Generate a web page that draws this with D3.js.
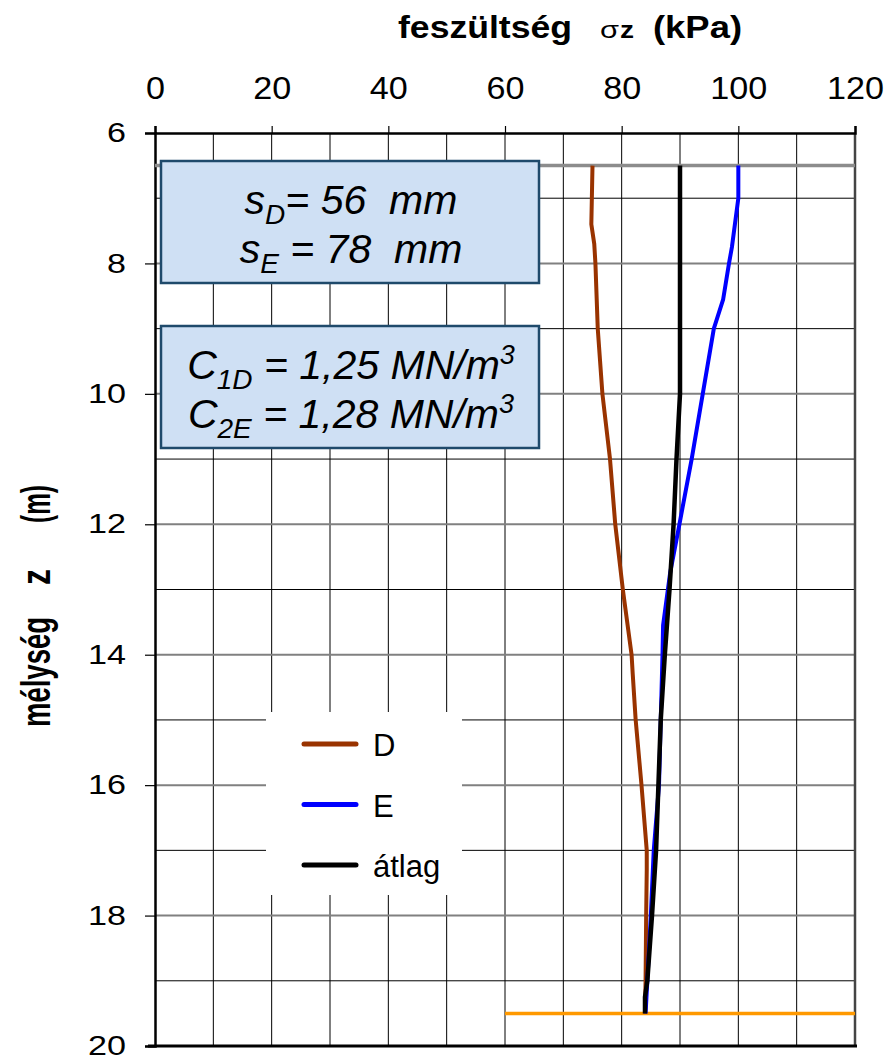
<!DOCTYPE html>
<html>
<head>
<meta charset="utf-8">
<script src="https://cdn.jsdelivr.net/npm/d3@7/dist/d3.min.js"></script>
<style>
body{margin:0;background:#fff;}
text{font-family:"Liberation Sans",Arial,sans-serif;}
.axis path{stroke:#000;}
</style>
</head>
<body>
<div id="canvas"></div>
<script>
// data
var depthD  = [6.5, 7.4, 7.7, 8, 9, 10, 11, 12, 13, 14, 14.3, 15, 16, 17, 17.3, 18, 19, 19.5];
var stressD = [75, 74.8, 75.3, 75.5, 75.9, 76.7, 78, 78.9, 80.2, 81.7, 81.9, 82.4, 83.4, 84.3, 84.3, 84.2, 84.1, 84.0];

var depthE  = [6.5, 7, 7.75, 8, 8.55, 9, 10, 11, 12, 12.75, 13.55, 14, 15, 16, 17, 18, 19, 19.5];
var stressE = [100, 100, 98.9, 98.4, 97.4, 95.8, 93.9, 92, 89.9, 88.3, 87.1, 87, 86.7, 86.4, 85.5, 85, 84.4, 84.1];

var depthAvg  = [6.5, 10, 11, 12, 13, 14, 15, 16, 17, 18, 19, 19.25, 19.5];
var stressAvg = [90, 90, 89.4, 88.9, 88.2, 87.4, 86.7, 86.3, 85.9, 85.2, 84.4, 84.0, 84.0];

var seriesNames = ['D', 'E', 'átlag'];
var seriesColors = ['#993300', '#0000ff', '#000000'];

var xTicks = [0, 20, 40, 60, 80, 100, 120];
var yTicks = [6, 8, 10, 12, 14, 16, 18, 20];

var topLevel = 6.5;      // gray line
var bottomLevel = 19.5;  // orange line
var bottomStart = 60;

var m = {t:133, r:36, b:14, l:155};
var outerWidth = 891, outerHeight = 1060;
var w = outerWidth - m.l - m.r,
    h = outerHeight - m.t - m.b;

var svg = d3.select('#canvas')
    .append('svg')
    .attr('width', outerWidth)
    .attr('height', outerHeight);

var plot = svg.append('g')
    .attr('transform', 'translate(' + m.l + ',' + m.t + ')');

var scaleX = d3.scaleLinear().domain([0, 120]).range([0, w]);
var scaleY = d3.scaleLinear().domain([6, 20]).range([0, h]);

// grid
plot.selectAll('.vgrid')
    .data(d3.range(10, 120, 10))
    .enter().append('line')
    .attr('x1', function(d){ return scaleX(d); })
    .attr('x2', function(d){ return scaleX(d); })
    .attr('y1', 0).attr('y2', h)
    .attr('stroke', '#000').attr('stroke-width', 1);

plot.selectAll('.hgrid')
    .data(d3.range(7, 20, 1))
    .enter().append('line')
    .attr('x1', 0).attr('x2', w)
    .attr('y1', function(d){ return scaleY(d); })
    .attr('y2', function(d){ return scaleY(d); })
    .attr('stroke', function(d){ return d % 2 == 0 ? '#808080' : '#000'; })
    .attr('stroke-width', function(d){ return d % 2 == 0 ? 2 : 1; });

// right border + bottom
plot.append('line')
    .attr('x1', w).attr('x2', w).attr('y1', 0).attr('y2', h)
    .attr('stroke', '#444').attr('stroke-width', 2.5);
plot.append('line')
    .attr('x1', -7).attr('x2', w + 2).attr('y1', h).attr('y2', h)
    .attr('stroke', '#000').attr('stroke-width', 3);

// axes
var axisX = d3.axisTop(scaleX)
    .tickValues(xTicks)
    .tickSize(7)
    .tickPadding(27);
var gx = plot.append('g').attr('class', 'axis axis-x').call(axisX);
gx.select('.domain').attr('stroke-width', 2.5);
gx.selectAll('.tick line').attr('stroke-width', 1.2);
gx.selectAll('text').attr('font-size', 32).attr('fill', '#000')
    .attr('textLength', function(d){ return String(d).length * 19; })
    .attr('lengthAdjust', 'spacingAndGlyphs')
    .style('font-family', '"Liberation Sans",Arial,sans-serif');

var axisY = d3.axisLeft(scaleY)
    .tickValues(yTicks)
    .tickSize(10)
    .tickPadding(19);
var gy = plot.append('g').attr('class', 'axis axis-y').call(axisY);
gy.select('.domain').attr('stroke-width', 2.5);
gy.selectAll('.tick line').attr('stroke-width', 1.2);
gy.selectAll('text').attr('font-size', 27).attr('fill', '#000')
    .attr('textLength', function(d){ return String(d).length * 19; })
    .attr('lengthAdjust', 'spacingAndGlyphs')
    .style('font-family', '"Liberation Sans",Arial,sans-serif');

// reference lines
plot.append('line')
    .attr('x1', scaleX(0)).attr('x2', scaleX(120))
    .attr('y1', scaleY(topLevel)).attr('y2', scaleY(topLevel))
    .attr('stroke', '#8c8c8c').attr('stroke-width', 3.5);
plot.append('line')
    .attr('x1', scaleX(bottomStart)).attr('x2', scaleX(120))
    .attr('y1', scaleY(bottomLevel)).attr('y2', scaleY(bottomLevel))
    .attr('stroke', '#ff9900').attr('stroke-width', 3.5);

// series
var line = d3.line()
    .x(function(d){ return scaleX(d[1]); })
    .y(function(d){ return scaleY(d[0]); });

var series = [
    d3.zip(depthD, stressD),
    d3.zip(depthE, stressE),
    d3.zip(depthAvg, stressAvg)
];

series.forEach(function(s, i){
    plot.append('path')
        .datum(s)
        .attr('d', line)
        .attr('fill', 'none')
        .attr('stroke', seriesColors[i])
        .attr('stroke-width', i == 2 ? 4.5 : 4)
        .attr('stroke-linejoin', 'round');
});

// info boxes
function box(y0, rows){
    svg.append('rect')
        .attr('x', 161).attr('y', y0)
        .attr('width', 378).attr('height', 122)
        .attr('fill', '#cfe0f4')
        .attr('stroke', '#1f4a6b')
        .attr('stroke-width', 2.5);
    rows.forEach(function(r, i){
        var t = svg.append('text')
            .attr('x', 351).attr('y', y0 + 53 + i * 49)
            .attr('text-anchor', 'middle')
            .attr('font-size', 41)
            .attr('font-style', 'italic')
            .attr('fill', '#000')
            .style('white-space', 'pre');
        r.forEach(function(p){
            var ts = t.append('tspan').text(p[0]);
            if (p[1] == 'sub') ts.attr('font-size', 28).attr('dy', 10);
            else if (p[1] == 'sup') ts.attr('font-size', 27).attr('dy', -15);
            else if (p[1] == 'back') ts.attr('dy', -10);
        });
    });
}

box(161, [
    [['s'], ['D', 'sub'], ['= 56  mm', 'back']],
    [['s'], ['E', 'sub'], [' = 78  mm', 'back']]
]);
box(326, [
    [['C'], ['1D', 'sub'], [' = 1,25 MN/m', 'back'], ['3', 'sup']],
    [['C'], ['2E', 'sub'], [' = 1,28 MN/m', 'back'], ['3', 'sup']]
]);

// legend
var legend = svg.append('g');
legend.append('rect')
    .attr('x', 266).attr('y', 712)
    .attr('width', 196).attr('height', 183)
    .attr('fill', '#fff');
seriesNames.forEach(function(n, i){
    var ly = 744 + i * 60.5;
    legend.append('line')
        .attr('x1', 304).attr('x2', 356)
        .attr('y1', ly).attr('y2', ly)
        .attr('stroke', seriesColors[i])
        .attr('stroke-width', 5)
        .attr('stroke-linecap', 'round');
    legend.append('text')
        .attr('x', 373).attr('y', ly + 12)
        .attr('font-size', 31)
        .attr('fill', '#000')
        .text(n);
});

// titles
function piece(g, txt, x, size, len, bold){
    g.append('text')
        .attr('x', x)
        .attr('font-size', size)
        .attr('font-weight', bold ? 'bold' : 'normal')
        .attr('textLength', len)
        .attr('lengthAdjust', 'spacingAndGlyphs')
        .attr('fill', '#000')
        .text(txt);
}

var titleX = svg.append('g').attr('transform', 'translate(0,38)');
piece(titleX, 'feszültség', 398, 32, 174, true);
piece(titleX, 'σ', 600, 24, 19, false);
piece(titleX, 'z', 620, 24, 14, true);
piece(titleX, '(kPa)', 653, 32, 89, true);

var titleY = svg.append('g').attr('transform', 'translate(50,727) rotate(-90)');
piece(titleY, 'mélység', 0, 40, 110, true);
piece(titleY, 'z', 142, 40, 16, true);
piece(titleY, '(m)', 204, 40, 38, true);
</script>
</body>
</html>
